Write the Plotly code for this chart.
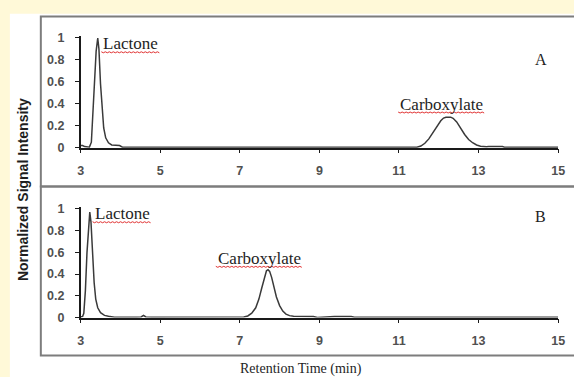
import plotly.graph_objects as go

# ---- chromatogram data (retention time in min, normalized intensity) ----
time_a = [3.00, 3.05, 3.10, 3.15, 3.22, 3.27, 3.31, 3.35, 3.39, 3.43, 3.46, 3.50,
          3.54, 3.58, 3.63, 3.70, 3.78, 3.90, 3.98, 4.05, 4.50, 6.00, 8.00, 10.00,
          11.00, 11.45, 11.55, 11.65, 11.75, 11.85, 11.95, 12.05, 12.12, 12.18,
          12.30, 12.36, 12.45, 12.55, 12.65, 12.75, 12.85, 12.95, 13.05, 13.20,
          13.25, 13.60, 13.65, 14.50, 15.00]
signal_a = [0.020, 0.020, 0.010, 0.005, 0.005, 0.050, 0.300, 0.600, 0.880, 1.000, 0.900, 0.580,
            0.320, 0.180, 0.090, 0.045, 0.025, 0.020, 0.020, 0.005, 0.003, 0.003, 0.003, 0.003,
            0.003, 0.005, 0.015, 0.040, 0.080, 0.135, 0.195, 0.245, 0.270, 0.278,
            0.278, 0.268, 0.235, 0.175, 0.120, 0.075, 0.045, 0.025, 0.014, 0.009,
            0.011, 0.011, 0.004, 0.003, 0.003]

time_b = [3.00, 3.05, 3.08, 3.12, 3.16, 3.20, 3.23, 3.26, 3.30, 3.34, 3.38, 3.43,
          3.50, 3.60, 3.70, 3.78, 3.85, 4.40, 4.52, 4.58, 4.64, 4.80, 6.50, 7.00,
          7.10, 7.20, 7.30, 7.40, 7.48, 7.55, 7.62, 7.67, 7.71, 7.75, 7.80, 7.86,
          7.92, 8.00, 8.08, 8.16, 8.25, 8.35, 8.60, 8.85, 8.95, 9.05, 9.30, 9.38,
          9.80, 9.88, 12.00, 15.00]
signal_b = [0.005, 0.010, 0.040, 0.250, 0.600, 0.880, 0.970, 0.880, 0.580, 0.320, 0.170, 0.090,
            0.045, 0.020, 0.012, 0.010, 0.004, 0.003, 0.006, 0.020, 0.006, 0.003, 0.003, 0.004,
            0.006, 0.015, 0.040, 0.090, 0.170, 0.270, 0.380, 0.430, 0.440, 0.425, 0.370, 0.280,
            0.190, 0.110, 0.060, 0.032, 0.018, 0.012, 0.012, 0.010, 0.000, 0.002, 0.004, 0.010,
            0.010, 0.004, 0.003, 0.003]

x_ticks = [3, 5, 7, 9, 11, 13, 15]
y_ticks = [0, 0.2, 0.4, 0.6, 0.8, 1]
y_tick_text = ["0", "0.2", "0.4", "0.6", "0.8", "1"]

# peak labels: (text, time, intensity, anchor, underline width px)
labels_a = [("Lactone", 3.52, 0.947, "left", 58), ("Carboxylate", 12.06, 0.398, "center", 86)]
labels_b = [("Lactone", 3.30, 0.955, "left", 59), ("Carboxylate", 7.49, 0.545, "center", 87)]
panel_tags = [("A", 14.58, 0.805, "y"), ("B", 14.56, 0.93, "y2")]

W, H = 574, 377


def px(v):
    return v / W


def py(v):
    return 1 - v / H


fig = go.Figure()
fig.add_trace(go.Scatter(x=time_a, y=signal_a, mode="lines", xaxis="x", yaxis="y",
                         line=dict(color="#3a3a3a", width=1.5), showlegend=False))
fig.add_trace(go.Scatter(x=time_b, y=signal_b, mode="lines", xaxis="x2", yaxis="y2",
                         line=dict(color="#3a3a3a", width=1.5), showlegend=False))

tick_font = dict(family="Liberation Sans, Arial, sans-serif", size=12.5, color="#505050",
                 weight="bold")
xa = dict(range=[3, 15], tickvals=x_ticks, showline=True, linecolor="#1a1a1a", linewidth=1.5,
          ticks="outside", ticklen=4, tickcolor="#1a1a1a", tickwidth=1, showgrid=False,
          zeroline=False, tickfont=tick_font, ticklabelstandoff=7,
          domain=[px(79), px(565)])
ya = dict(range=[0, 1.02], tickvals=y_ticks, ticktext=y_tick_text, showline=True,
          linecolor="#1a1a1a", linewidth=1.5, ticks="outside", ticklen=4, tickcolor="#1a1a1a",
          tickwidth=1, showgrid=False, zeroline=False, tickfont=tick_font, ticklabelstandoff=8)

fig.update_layout(
    width=W, height=H, margin=dict(l=0, r=0, t=0, b=0),
    paper_bgcolor="#FFF9D8", plot_bgcolor="rgba(0,0,0,0)",
    xaxis=dict(xa, anchor="y"),
    yaxis=dict(ya, anchor="x", domain=[py(148), py(148 - 113 * 1.02)]),
    xaxis2=dict(xa, anchor="y2"),
    yaxis2=dict(ya, anchor="x2", domain=[py(323), py(323 - 112 * 1.02)]),
)

# white page area and the two panel frames
fig.add_shape(type="rect", xref="paper", yref="paper", x0=px(7), x1=1.02, y0=-0.02, y1=py(10),
              fillcolor="white", line=dict(width=0), layer="below")
for top, bottom in [(13, 188), (188, 362)]:
    fig.add_shape(type="rect", xref="paper", yref="paper", x0=px(38.5), x1=1.02,
                  y0=py(bottom), y1=py(top), line=dict(color="#7d7d7d", width=2),
                  fillcolor="rgba(0,0,0,0)", layer="below")

label_font = dict(family="Liberation Serif, Times New Roman, serif", size=17, color="#1e1e1e")


def squiggle(width, dx, dy):
    pts = []
    for i in range(int(width / 2) + 1):
        pts.append((i * 2 + dx, dy - (1 if i % 2 else 0)))
    return "M " + " L ".join(f"{a},{b}" for a, b in pts)


for labels, xr, yr in [(labels_a, "x", "y"), (labels_b, "x2", "y2")]:
    for text, t, v, anchor, uw in labels:
        fig.add_annotation(x=t, y=v, xref=xr, yref=yr, text=text, showarrow=False,
                           xanchor=anchor, yanchor="middle", font=label_font)
        offset = 0 if anchor == "left" else -uw / 2
        fig.add_shape(type="path", xref=xr, yref=yr, xsizemode="pixel", ysizemode="pixel",
                      xanchor=t, yanchor=v, path=squiggle(uw, offset, -8),
                      line=dict(color="#e03030", width=1))

for tag, t, v, yr in panel_tags:
    fig.add_annotation(x=t, y=v, xref="x" if yr == "y" else "x2", yref=yr, text=tag,
                       showarrow=False, font=dict(label_font, size=16))

fig.add_annotation(x=px(21), y=py(191), xref="paper", yref="paper", xanchor="center",
                   yanchor="middle", text="<b>Normalized Signal Intensity</b>", textangle=-90,
                   showarrow=False,
                   font=dict(family="Liberation Sans, Arial, sans-serif", size=14, color="#1e1e1e"))
fig.add_annotation(x=px(303), y=py(376), xref="paper", yref="paper", xanchor="center",
                   yanchor="middle", text="Retention Time (min)", showarrow=False,
                   font=dict(family="Liberation Serif, Times New Roman, serif", size=14,
                             color="#1e1e1e"))

fig.write_html("out.html")
